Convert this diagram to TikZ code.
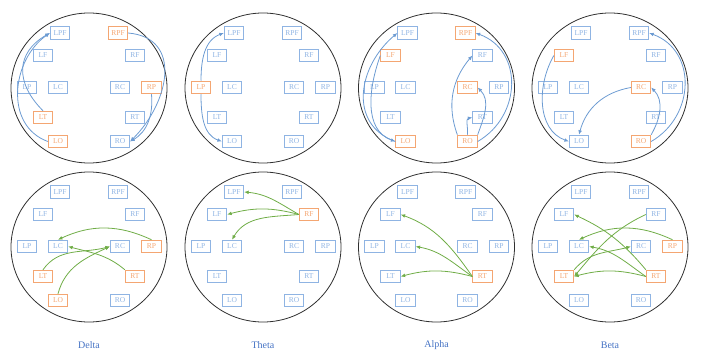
\documentclass[tikz,border=0pt]{standalone}
\usepackage{fontspec}
\setmainfont{Liberation Serif}
\usetikzlibrary{arrows.meta}
\definecolor{boxblue}{HTML}{8FB4E3}
\definecolor{boxorange}{HTML}{F4A672}
\definecolor{arrowblue}{HTML}{6C9BD2}
\definecolor{arrowgreen}{HTML}{70AD47}
\definecolor{labelblue}{HTML}{4472C4}
\definecolor{rimgray}{HTML}{303030}
\tikzset{
  brainbox/.style={draw, line width=0.8pt, minimum width=19.5pt, minimum height=12.7pt, inner sep=0pt, font=\fontsize{7.5}{8}\selectfont},
  rim/.style={draw=rimgray, line width=0.8pt},
  be/.style={draw=arrowblue, line width=0.8pt, -{Latex[length=4.5pt,width=3.8pt]}},
  ge/.style={draw=arrowgreen, line width=0.8pt, -{Latex[length=4.5pt,width=3.8pt]}},
  bandlabel/.style={text=labelblue, font=\fontsize{10}{12}\selectfont}
}
\makeatletter
\newcommand\brainnodes[4]{%
  \foreach \n/\dx/\dy in {LPF/-29/55, RPF/29/55, LF/-46/32.5, RF/46/32.5, LP/-62/0.5, LC/-31/0.5, RC/31/0.5, RP/62.5/0.5, LT/-46/-29.5, RT/46/-29.5, LO/-31/-53.5, RO/31/-53.5}{%
    \edef\tmpchk{\noexpand\in@{,\n,}{,#4,}}\tmpchk
    \ifin@\def\nodecol{boxorange}\else\def\nodecol{boxblue}\fi
    \node[brainbox, draw=\nodecol, text=\nodecol] (#1-\n) at ({#2+(\dx)}, {#3+(\dy)}) {\n};
  }}
\makeatother
\begin{document}
\begin{tikzpicture}[x=1pt,y=1pt]
\useasboundingbox (0,0) rectangle (703,-358);
% rims
\foreach \cx/\nm in {89/1, 263/2, 436.5/3, 610/4}{
  \draw[rim] (\cx,-88) ellipse [x radius=78, y radius=75];
  \draw[rim] (\cx,-247) ellipse [x radius=78, y radius=75];
}
% nodes
\brainnodes{a1}{89}{-88}{RPF,RP,LT,LO}
\brainnodes{a2}{263}{-88}{LP}
\brainnodes{a3}{436.5}{-88}{LF,LO,RPF,RC,RO}
\brainnodes{a4}{610}{-88}{LF,RC,RO}
\brainnodes{b1}{89}{-247}{RP,LT,RT,LO}
\brainnodes{b2}{263}{-247}{RF}
\brainnodes{b3}{436.5}{-247}{RT}
\brainnodes{b4}{610}{-247}{RP,LT,RT}
% top row (blue)
\draw[be] (a1-LT.north) to[out=135, in=210, looseness=1.3] (a1-LPF.west);
\draw[be] (a1-LO.west) to[out=160, in=215, looseness=1.1] (a1-LPF.west);
\draw[be] (a1-RPF.east) to[out=-5, in=45, looseness=1.3] (a1-RO.east);
\draw[be] (a1-RP.south) to[out=-85, in=30] (a1-RO.east);

\draw[be] (a2-LP.north) to[out=90, in=200] (a2-LPF.west);
\draw[be] (a2-LP.south) to[out=-90, in=160] (a2-LO.west);

\draw[be] (a3-LF.west) to[out=-110, in=160] (a3-LO.west);
\draw[be] (a3-LO.west) to[out=160, in=220, looseness=1.2] (a3-LPF.west);
\draw[be] (a3-RO.north west) to[out=110, in=230] (a3-RF.west);
\draw[be] (a3-RO.north) to[out=85, in=190] (a3-RT.west);
\draw[be] (a3-RO.north east) to[out=70, in=-45] (a3-RC.east);
\draw[be] (a3-RO.east) to[out=30, in=-20, looseness=1.2] (a3-RPF.east);

\draw[be] (a4-LF.west) to[out=-120, in=160] (a4-LO.west);
\draw[be] (a4-RC.west) to[out=190, in=75] (a4-LO.north);
\draw[be] (a4-RO.north east) to[out=60, in=-45] (a4-RC.east);
\draw[be] (a4-RO.east) to[out=30, in=-20, looseness=1.2] (a4-RPF.east);
% bottom row (green)
\draw[ge] (b1-RP.north) to[out=155, in=25] (b1-LC.north);
\draw[ge] (b1-LT.north) to[out=55, in=195] (b1-RC.west);
\draw[ge] (b1-LO.north) to[out=75, in=205] (b1-RC.west);
\draw[ge] (b1-RT.north west) to[out=140, in=-15] (b1-LC.east);

\draw[ge] (b2-RF.west) to[out=150, in=-5] (b2-LPF.east);
\draw[ge] (b2-RF.west) to[out=165, in=15] (b2-LF.east);
\draw[ge] (b2-RF.west) to[out=185, in=60] (b2-LC.north);

\draw[ge] (b3-RT.west) to[out=125, in=-20] (b3-LF.east);
\draw[ge] (b3-RT.west) to[out=145, in=-10] (b3-LC.east);
\draw[ge] (b3-RT.west) to[out=165, in=15] (b3-LT.east);

\draw[ge] (b4-RT.north west) to[out=130, in=-25] (b4-LF.east);
\draw[ge] (b4-RT.west) to[out=145, in=-10] (b4-LC.east);
\draw[ge] (b4-RT.west) to[out=165, in=15] (b4-LT.east);
\draw[ge] (b4-RP.north) to[out=155, in=25] (b4-LC.north);
\draw[ge] (b4-LT.north east) to[out=50, in=195] (b4-RC.west);
\draw[ge] (b4-RF.west) to[out=205, in=50] (b4-LT.east);
% labels
\node[bandlabel] (l1) at (89,-345) {Delta};
\node[bandlabel] (l2) at (263,-345) {Theta};
\node[bandlabel] (l3) at (436.5,-345) {Alpha};
\node[bandlabel] (l4) at (610,-345) {Beta};
\end{tikzpicture}
\end{document}
